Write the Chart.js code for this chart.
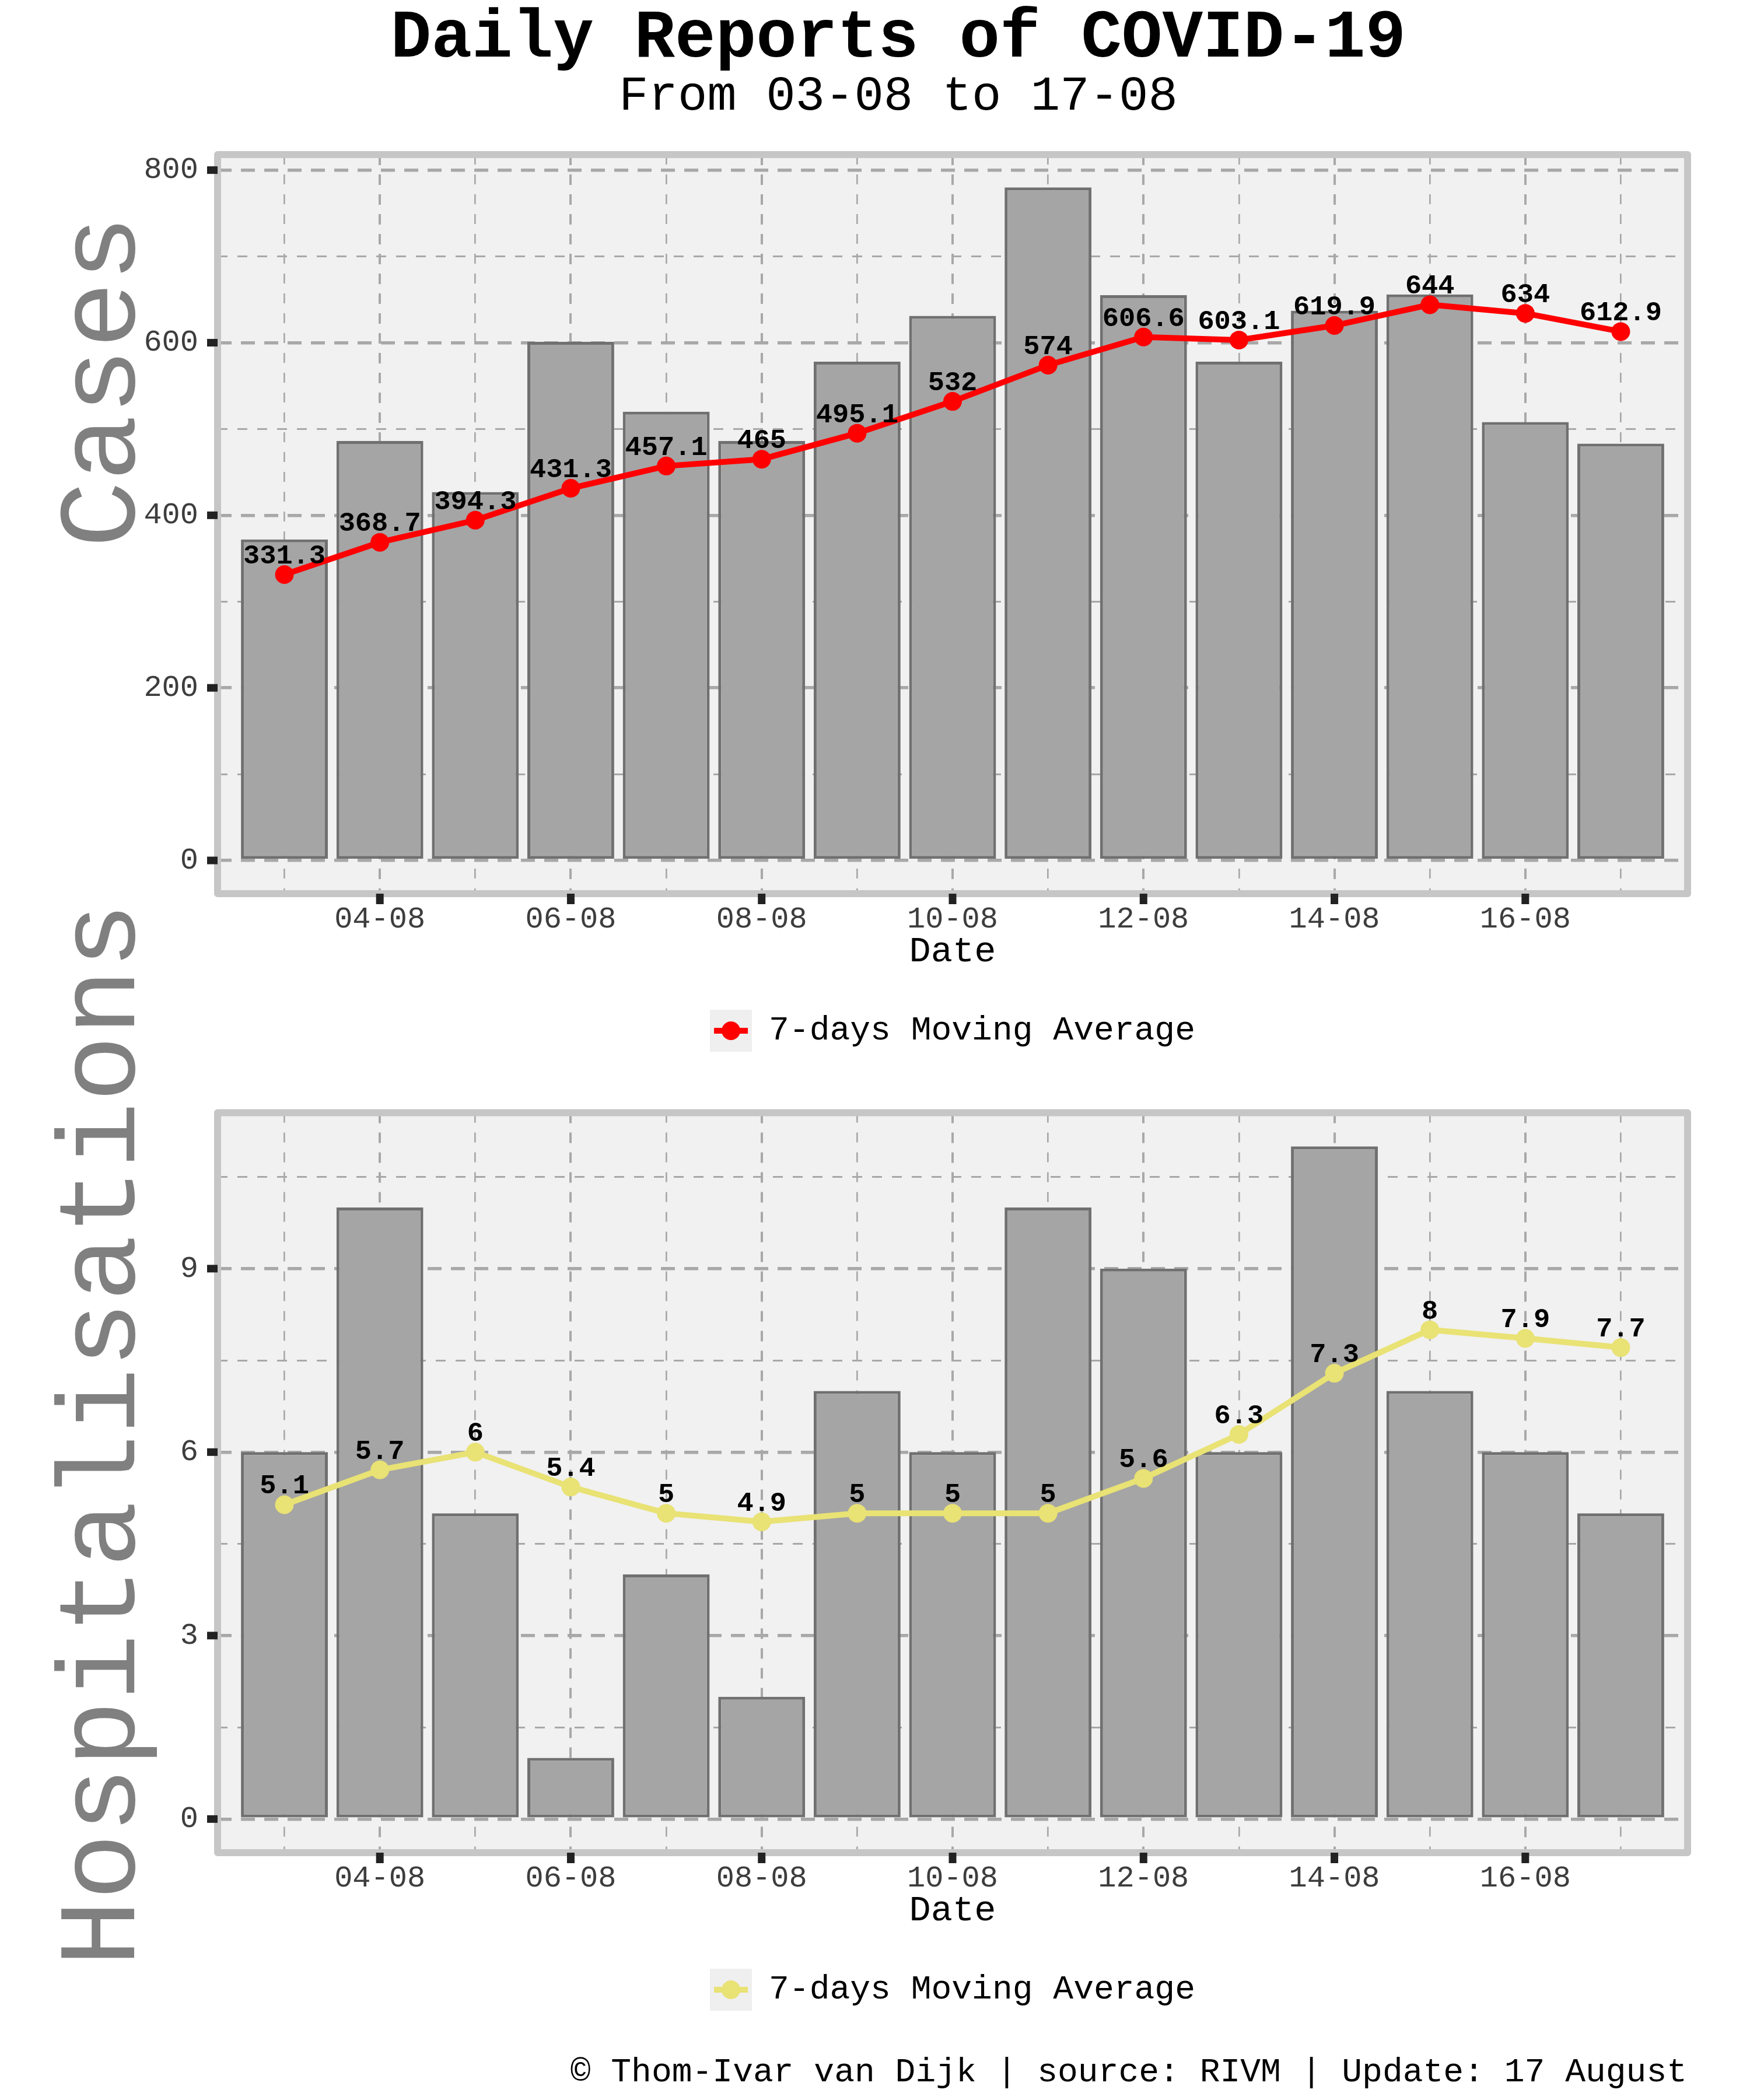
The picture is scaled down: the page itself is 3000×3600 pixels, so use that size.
<!DOCTYPE html>
<html>
<head>
<meta charset="utf-8">
<title>Daily Reports of COVID-19</title>
<script src="https://cdn.jsdelivr.net/npm/chart.js@4.4.1/dist/chart.umd.min.js"></script>
<style>
  html, body { margin: 0; padding: 0; background: #fff; }
  #page { position: relative; width: 3000px; height: 3600px; overflow: hidden;
          font-family: "Courier New", "Liberation Mono", monospace; }
  .txt { position: absolute; white-space: pre; line-height: 1; color: #000; }
  #title { left: 0; width: 3080px; top: 8px; text-align: center; font-size: 116px; font-weight: bold; }
  #subtitle { left: 0; width: 3080px; top: 124px; text-align: center; font-size: 84px; }
  .ytitle { width: 2000px; height: 190px; left: -820px; font-size: 190px; color: #808080;
            text-align: center; transform: rotate(-90deg); }
  #yCases { top: 559px; }
  #yHosp { top: 2364px; }
  #footer { right: 108px; top: 3524px; font-size: 58px; }
  .box { position: absolute; left: 0; width: 3000px; }
  #box1 { top: 0; height: 1830px; }
  #box2 { top: 1830px; height: 1770px; }
</style>
</head>
<body>
<div id="page">
  <div class="txt" id="title">Daily Reports of COVID-19</div>
  <div class="txt" id="subtitle">From 03-08 to 17-08</div>
  <div class="box" id="box1"><canvas id="casesChart"></canvas></div>
  <div class="box" id="box2"><canvas id="hospChart"></canvas></div>
  <div class="txt ytitle" id="yCases">Cases</div>
  <div class="txt ytitle" id="yHosp">Hospitalisations</div>
  <div class="txt" id="footer">© Thom-Ivar van Dijk | source: RIVM | Update: 17 August</div>
</div>
<script>
// ---------------- data ----------------
const days = ['03-08','04-08','05-08','06-08','07-08','08-08','09-08','10-08',
              '11-08','12-08','13-08','14-08','15-08','16-08','17-08'];
const casesDaily = [372, 486, 427, 601, 520, 486, 578, 631, 780, 655, 578, 637, 656, 508, 483];
const casesAvg = [331.3, 368.7, 394.3, 431.3, 457.1, 465, 495.1, 532, 574, 606.6, 603.1, 619.9, 644, 634, 612.9];
const hospDaily = [6, 10, 5, 1, 4, 2, 7, 6, 10, 9, 6, 11, 7, 6, 5];
const hospAvg = [5.14, 5.71, 6, 5.43, 5, 4.86, 5, 5, 5, 5.57, 6.29, 7.29, 8, 7.86, 7.71];

const casesTicks = [0, 200, 400, 600, 800];
const casesMinorTicks = [100, 300, 500, 700];
const hospTicks = [0, 3, 6, 9];
const hospMinorTicks = [1.5, 4.5, 7.5, 10.5];

const dayRange = [-0.7, 14.7];
const casesRange = [-38.5, 818];
const hospRange = [-0.55, 11.55];

// ---------------- styles ----------------
const FONT = "'Courier New', 'Liberation Mono', monospace";
const barFill = '#a5a5a5';
const barEdge = '#707070';
const panelBg = '#f1f1f1';
const frameColor = '#c6c6c6';
const gridColor = '#a8a8a8';
const tickText = '#3d3d3d';
const casesColor = '#ff0000';
const hospColor = '#e9e274';

Chart.defaults.font.family = FONT;

const fmt = v => String(Math.round(v * 10) / 10);

// ---------------- legend key (grey square + line + dot) ----------------
function makeKey(color) {
  const k = document.createElement('canvas');
  k.width = 72; k.height = 72;
  const c = k.getContext('2d');
  c.fillStyle = '#efefef';
  c.fillRect(0, 0, 72, 72);
  c.strokeStyle = color;
  c.lineWidth = 10;
  c.beginPath(); c.moveTo(7, 36); c.lineTo(65, 36); c.stroke();
  c.fillStyle = color;
  c.beginPath(); c.arc(36, 36, 16, 0, Math.PI * 2); c.fill();
  return k;
}

// ---------------- panel background, frame, tick marks, value labels ----------------
const panelFrame = {
  id: 'panelFrame',
  beforeDraw(chart) {
    const a = chart.chartArea, c = chart.ctx;
    c.save();
    c.fillStyle = panelBg;
    c.fillRect(a.left, a.top, a.width, a.height);
    c.restore();
  },
  afterDatasetsDraw(chart) {
    const a = chart.chartArea, c = chart.ctx;
    const xs = chart.scales.x, ys = chart.scales.y;
    c.save();
    c.strokeStyle = frameColor;
    c.lineWidth = 12;
    c.lineJoin = 'round';
    c.strokeRect(a.left, a.top, a.width, a.height);

    c.fillStyle = '#222';
    xs.ticks.forEach(t => {
      if (!t.label) return;
      const px = xs.getPixelForValue(t.value);
      c.fillRect(px - 6.5, a.bottom, 13, 18);
    });
    ys.ticks.forEach(t => {
      if (!t.label) return;
      const py = ys.getPixelForValue(t.value);
      c.fillRect(a.left - 18, py - 6.5, 18, 13);
    });

    const ds = chart.data.datasets[1];
    const meta = chart.getDatasetMeta(1);
    c.fillStyle = '#000';
    c.font = 'bold 47px ' + FONT;
    c.textAlign = 'center';
    c.textBaseline = 'middle';
    meta.data.forEach((pt, i) => c.fillText(fmt(ds.data[i].y), pt.x, pt.y - 31));
    c.restore();
  }
};

// ---------------- chart builder ----------------
function makeChart(id, daily, avg, color, range, major, minor, pad) {
  const yTicks = major.concat(minor).sort((a, b) => a - b);
  const isMajorY = c => !!c.tick && major.includes(c.tick.value);
  const isMajorX = c => !!c.tick && c.tick.value % 2 === 1;

  return new Chart(document.getElementById(id), {
    type: 'bar',
    data: {
      datasets: [
        {
          type: 'bar', label: 'Daily',
          data: daily.map((v, i) => ({x: i, y: v})),
          backgroundColor: barFill, borderColor: barEdge, borderWidth: 5, borderSkipped: false,
          categoryPercentage: 1, barPercentage: 0.91, order: 1
        },
        {
          type: 'line', label: '7-days Moving Average',
          data: avg.map((v, i) => ({x: i, y: v})),
          borderColor: color, backgroundColor: color, borderWidth: 10,
          pointRadius: 16, pointBackgroundColor: color, pointBorderWidth: 0,
          tension: 0, order: 0
        }
      ]
    },
    options: {
      responsive: true,
      maintainAspectRatio: false,
      animation: false,
      devicePixelRatio: 1,
      events: [],
      layout: { padding: pad },
      plugins: {
        legend: {
          position: 'bottom',
          fullSize: false,
          labels: {
            filter: it => it.datasetIndex === 1,
            usePointStyle: true,
            pointStyle: makeKey(color),
            pointStyleWidth: 72,
            padding: 75,
            color: '#000',
            font: { size: 58, family: FONT }
          }
        },
        tooltip: { enabled: false }
      },
      scales: {
        x: {
          type: 'linear',
          min: dayRange[0], max: dayRange[1],
          bounds: 'data',
          offset: false,
          afterBuildTicks: ax => { ax.ticks = days.map((d, i) => ({value: i})); },
          afterFit: ax => { ax.height = 131; },
          ticks: {
            autoSkip: false, maxRotation: 0, padding: 0, color: tickText,
            font: { size: 52, lineHeight: 1 },
            callback: v => (v % 2 === 1 ? days[v] : '')
          },
          grid: {
            offset: false,
            color: gridColor,
            lineWidth: c => isMajorX(c) ? 4 : 2.7,
            tickLength: 18,
            tickColor: 'rgba(0,0,0,0)'
          },
          border: { display: false, dash: c => isMajorX(c) ? [18, 16] : [17, 17] },
          title: { display: true, text: 'Date', color: '#000', padding: 0, font: { size: 62, lineHeight: 1 } }
        },
        y: {
          min: range[0], max: range[1],
          afterBuildTicks: ax => { ax.ticks = yTicks.map(v => ({value: v})); },
          afterFit: ax => { ax.width = 373; },
          ticks: {
            padding: 15, color: tickText,
            font: { size: 52, lineHeight: 1 },
            callback: v => (major.includes(v) ? String(v) : '')
          },
          grid: {
            color: gridColor,
            lineWidth: c => isMajorY(c) ? 5.5 : 3,
            tickLength: 18,
            tickColor: 'rgba(0,0,0,0)'
          },
          border: { display: false, dash: c => isMajorY(c) ? [24, 16] : [17, 17] }
        }
      }
    },
    plugins: [panelFrame]
  });
}

// ---------------- render ----------------
makeChart('casesChart', casesDaily, casesAvg, casesColor, casesRange, casesTicks, casesMinorTicks,
          { top: 265, right: 107, bottom: 24, left: 0 });
makeChart('hospChart', hospDaily, hospAvg, hospColor, hospRange, hospTicks, hospMinorTicks,
          { top: 77.5, right: 107, bottom: 150, left: 0 });
</script>
</body>
</html>
